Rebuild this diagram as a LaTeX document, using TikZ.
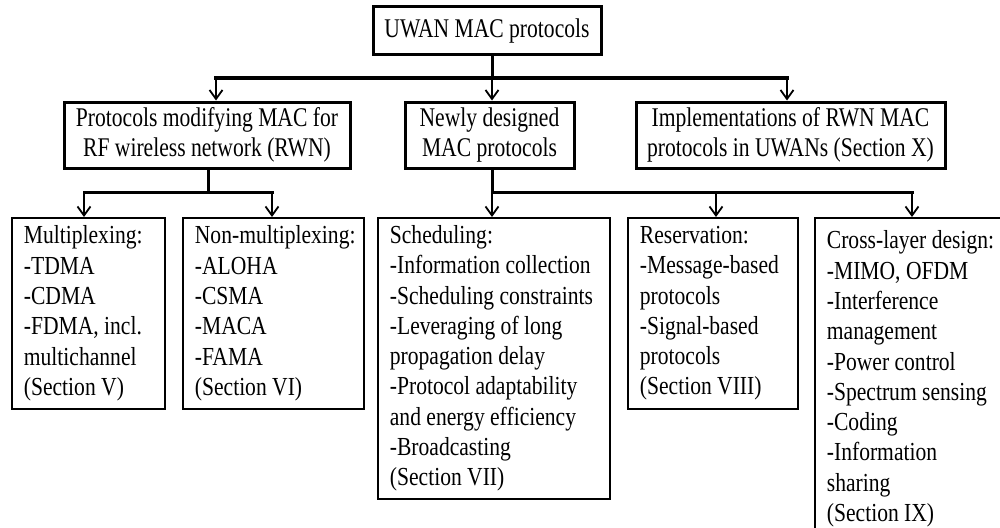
\documentclass[tikz,border=0pt]{standalone}
\usepackage{fontspec}
\setmainfont{Liberation Serif}[FakeStretch=0.8]
\newfontfamily\leaffont{Liberation Serif}[FakeStretch=0.83]
\usetikzlibrary{arrows.meta}
\hyphenpenalty=10000
\exhyphenpenalty=10000

\begin{document}
\begin{tikzpicture}[x=1pt,y=-1pt,
  every node/.style={font=\fontsize{27}{30.5}\selectfont, inner sep=0pt},
  rootbox/.style={draw, line width=3pt, minimum height=48pt, align=center},
  groupbox/.style={draw, line width=3pt, minimum height=66pt, align=center,
    font=\fontsize{27}{30}\selectfont},
  leafbox/.style={draw, line width=1.8pt, align=flush left, inner xsep=12pt,
    anchor=north west, font=\leaffont\fontsize{26}{30.3}\selectfont},
  bus/.style={line width=3.5pt, line cap=rect},
  subbus/.style={line width=3pt, line cap=rect},
  stem/.style={line width=3pt},
  arr/.style={line width=1.8pt,
    -{Straight Barb[length=9pt,width=13pt,line width=1.8pt]}}
]
\useasboundingbox (0,0) rectangle (1000,527);

% root
\node[rootbox, minimum width=228pt] (T) at (487,31) {UWAN MAC protocols};

% second level
\node[groupbox, minimum width=286pt] (A) at (207,135)
  {Protocols modifying MAC for\\RF wireless network (RWN)};
\node[groupbox, minimum width=169pt] (B) at (489.5,135)
  {Newly designed\\MAC protocols};
\node[groupbox, minimum width=309pt] (C) at (790.5,135)
  {Implementations of RWN MAC\\protocols in UWANs (Section X)};

% third level
\node[leafbox, text width=129pt, minimum height=191pt] (D) at (11,217)
  {Multiplexing:\\-TDMA\\-CDMA\\-FDMA, incl.\\multichannel\\(Section V)};
\node[leafbox, text width=157pt, minimum height=191pt] (E) at (182,217)
  {Non-multiplexing:\\-ALOHA\\-CSMA\\-MACA\\-FAMA\\(Section VI)};
\node[leafbox, text width=208pt, minimum height=281pt] (F) at (377,217)
  {Scheduling:\\-Information collection\\-Scheduling constraints\\-Leveraging of long\\propagation delay\\-Protocol adaptability\\and energy efficiency\\-Broadcasting\\(Section VII)};
\node[leafbox, text width=146pt, minimum height=191pt] (G) at (627,217)
  {Reservation:\\-Message-based\\protocols\\-Signal-based\\protocols\\(Section VIII)};
\node[leafbox, text width=175pt, minimum height=322pt] (H) at (814,217)
  {Cross-layer design:\\-MIMO, OFDM\\-Interference\\management\\-Power control\\-Spectrum sensing\\-Coding\\-Information\\sharing\\(Section IX)};

% root to second level
\coordinate (j1) at (492,78);
\coordinate (t1) at (216,78);
\coordinate (t3) at (787,78);
\draw[stem] (j1 |- T.south) -- (j1);
\draw[bus] (t1) -- (t3);
\draw[arr] (t1) -- (t1 |- A.north);
\draw[arr] (j1) -- (j1 |- B.north);
\draw[arr] (t3) -- (t3 |- C.north);

% RWN branch
\coordinate (j2) at (208,192);
\coordinate (m1) at (84,192);
\coordinate (m2) at (272,192);
\draw[stem] (j2 |- A.south) -- (j2);
\draw[subbus] (m1) -- (m2);
\draw[arr] (m1) -- (m1 |- D.north);
\draw[arr] (m2) -- (m2 |- E.north);

% newly designed branch
\coordinate (j3) at (492,192);
\coordinate (m4) at (716,192);
\coordinate (m5) at (912,192);
\draw[stem] (j3 |- B.south) -- (j3);
\draw[subbus] (j3) -- (m5);
\draw[arr] (j3) -- (j3 |- F.north);
\draw[arr] (m4) -- (m4 |- G.north);
\draw[arr] (m5) -- (m5 |- H.north);
\end{tikzpicture}
\end{document}
